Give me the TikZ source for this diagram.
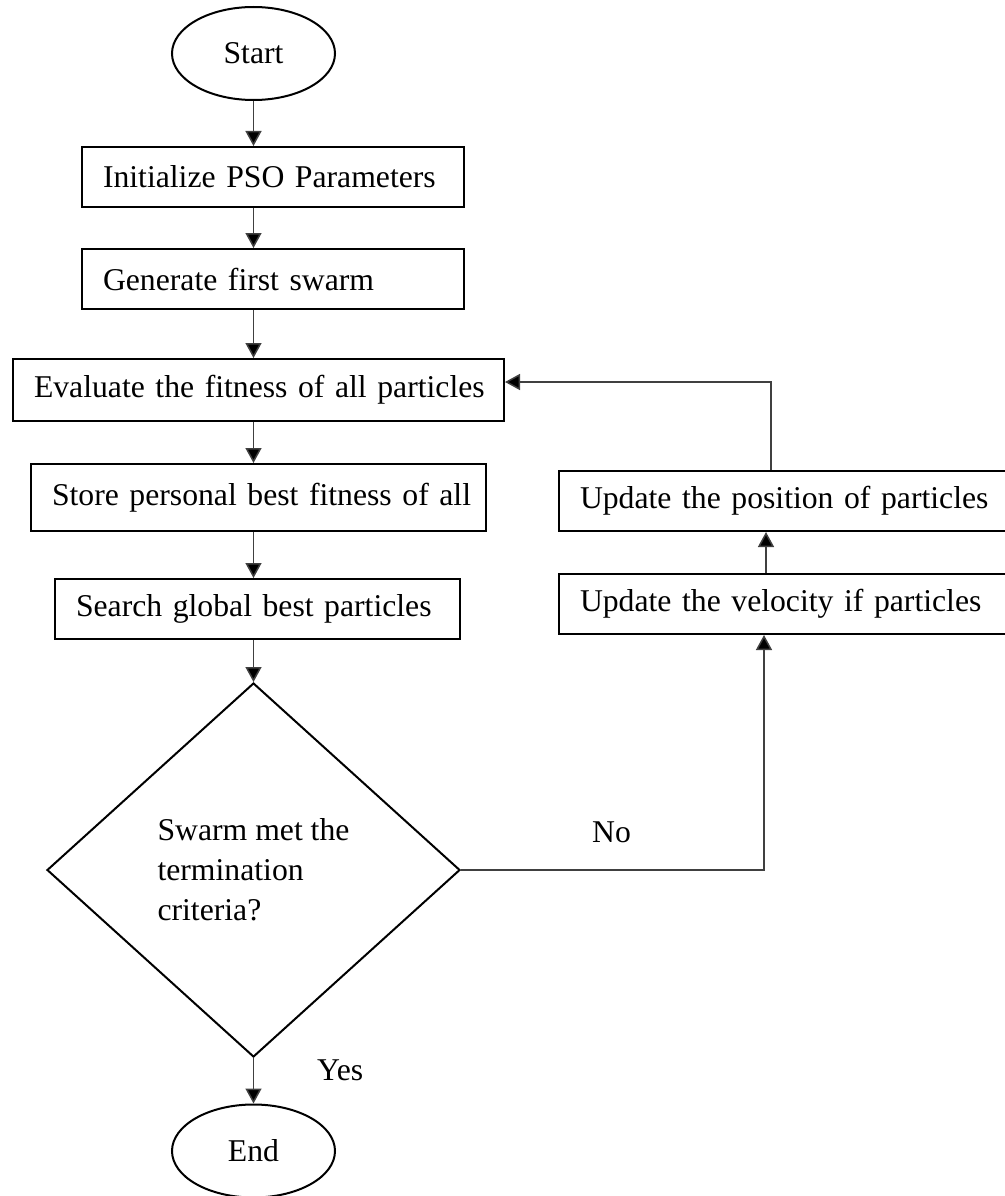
\documentclass[tikz,border=0pt]{standalone}
\usepackage{fontspec}
\setmainfont{Liberation Serif}
\usetikzlibrary{shapes.geometric,arrows.meta}
\begin{document}
\begin{tikzpicture}[x=1pt,y=-1pt,
  every node/.style={font=\fontsize{31.7pt}{40pt}\selectfont},
  box/.style={draw, line width=2pt, rectangle, anchor=north west,
    inner xsep=21pt, inner ysep=0pt, align=left},
  term/.style={draw, line width=2pt, ellipse, minimum width=163pt,
    minimum height=93pt, inner sep=0pt},
  decision/.style={draw, line width=2pt, diamond, minimum width=413pt,
    minimum height=374pt, inner sep=0pt, align=left},
  flow/.style={draw=black!75, line width=1.5pt,
    -{Triangle[length=15pt,width=16pt,fill=black]}},
  lbl/.style={anchor=base west, inner sep=0pt}
]
\useasboundingbox (0,0) rectangle (1004,1196);

% main column
\node[term] (start) at (253.5,53.5) {Start};
\node[box, text width=340pt, minimum height=60pt] (init) at (81,146) {\mbox{Initialize PSO Parameters}};
\node[box, text width=340pt, minimum height=60pt] (gen) at (81,248) {\mbox{Generate first swarm}};
\node[box, text width=449pt, minimum height=62pt] (eval) at (12,358) {\mbox{Evaluate the fitness of all particles}};
\node[box, text width=413pt, minimum height=67pt] (store) at (30,463) {\mbox{Store personal best fitness of all}};
\node[box, text width=363pt, minimum height=60pt] (search) at (54,578) {\mbox{Search global best particles}};
\node[decision] (dia) at (253.5,870) {Swarm met the\\termination\\criteria?};
\node[term] (end) at (253.5,1151) {End};

% update column
\node[box, text width=410pt, minimum height=60pt] (pos) at (558,470) {\mbox{Update the position of particles}};
\node[box, text width=410pt, minimum height=60pt] (vel) at (558,573) {\mbox{Update the velocity if particles}};

% branch labels
\node[lbl] (no) at (592,842) {No};
\node[lbl] (yes) at (317,1080) {Yes};

% connectors
\coordinate (spine) at (253.5,0);
\draw[flow] (start.south) -- (start.south |- init.north);
\draw[flow] (init.south -| spine) -- (gen.north -| spine);
\draw[flow] (gen.south -| spine) -- (eval.north -| spine);
\draw[flow] (eval.south -| spine) -- (store.north -| spine);
\draw[flow] (store.south -| spine) -- (search.north -| spine);
\draw[flow] (search.south -| spine) -- (dia.north);
\draw[flow] (dia.south) -- (end.north);

\coordinate (nx) at (764,870);
\draw[flow] (dia.east) -- (nx) -- (nx |- vel.south);
\coordinate (vx) at (766,0);
\draw[flow] (vel.north -| vx) -- (pos.south -| vx);
\coordinate (lp) at (771,382);
\draw[flow] (pos.north -| lp) -- (lp) -- (lp -| eval.east);
\end{tikzpicture}
\end{document}
